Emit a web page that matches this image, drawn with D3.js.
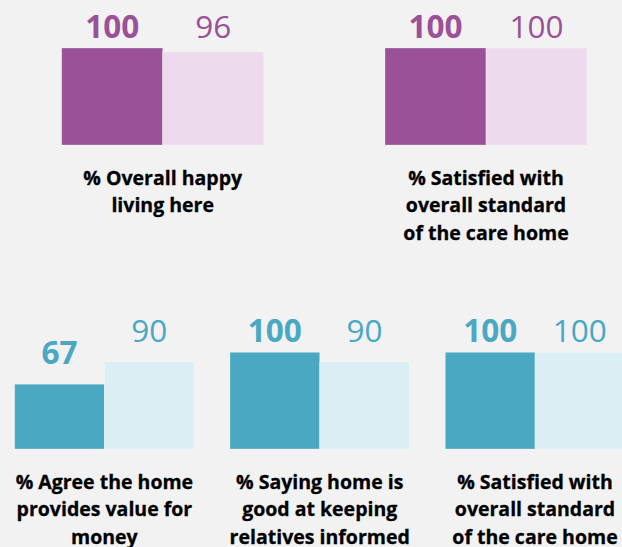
<!DOCTYPE html>
<html>
<head>
<meta charset="utf-8">
<script src="https://cdn.jsdelivr.net/npm/d3@7"></script>
<style>
	body { margin: 0; background: #f2f2f2; }
	svg { display: block; }
</style>
</head>
<body>
<script>
// values: this home vs comparison
const captions = [
	["% Overall happy", "living here"],
	["% Satisfied with", "overall standard", "of the care home"],
	["% Agree the home", "provides value for", "money"],
	["% Saying home is", "good at keeping", "relatives informed"],
	["% Satisfied with", "overall standard", "of the care home"],
];
const homeValues = [100, 100, 67, 100, 100];
const comparisonValues = [96, 100, 90, 90, 100];
const seriesNames = ["home", "comparison"];
const groups = ["residents", "residents", "relatives", "relatives", "relatives"];

var width = 622,
	height = 547;

var colors = {
	residents: { home: "#9b5197", comparison: "#eddaed", label: "#9b5197" },
	relatives: { home: "#4aa8c3", comparison: "#dbeef4", label: "#4aa8c3" },
};

// panel frames: [left, barWidth, baseline, top of 100]
var frames = [
	[61.7, 101, 145, 48],
	[385, 101, 145, 48],
	[14.7, 89.7, 449, 352.3],
	[230, 89.7, 449, 352.3],
	[445.3, 89.7, 449, 352.3],
];

var svg = d3.select("body").append("svg").attr("width", width).attr("height", height);

svg.append("rect").attr("width", width).attr("height", height).attr("fill", "#f2f2f2");

var font = "'Open Sans', 'Noto Sans', sans-serif";

captions.forEach(function (lines, i) {
	var f = frames[i];
	var c = colors[groups[i]];
	var x = d3
		.scaleBand()
		.domain(seriesNames)
		.range([f[0], f[0] + f[1] * 2]);
	var y = d3.scaleLinear().domain([0, 100]).range([f[2], f[3]]);

	var vals = [
		{ key: "home", value: homeValues[i] },
		{ key: "comparison", value: comparisonValues[i] },
	];

	var g = svg.append("g").attr("class", "panel");

	g.selectAll("rect.bar")
		.data(vals)
		.enter()
		.append("rect")
		.attr("class", "bar")
		.attr("x", (d) => x(d.key))
		.attr("width", x.bandwidth())
		.attr("y", (d) => y(d.value))
		.attr("height", (d) => y(0) - y(d.value))
		.attr("fill", (d) => c[d.key])
		.attr("stroke", "rgba(255,255,255,0.35)")
		.attr("stroke-width", 0.8);

	// labels sit above the bar, but never above the top line
	g.selectAll("text.value")
		.data(vals)
		.enter()
		.append("text")
		.attr("class", "value")
		.attr("x", (d) => x(d.key) + x.bandwidth() / 2)
		.attr("y", (d) => Math.max(y(d.value) - 20, y(100) - 10))
		.attr("text-anchor", "middle")
		.attr("font-family", font)
		.attr("font-size", 31.5)
		.attr("font-weight", (d) => (d.key == "home" ? 700 : 400))
		.attr("fill", c.label)
		.text((d) => d.value);

	var cx = f[0] + f[1];
	g.append("text")
		.attr("class", "caption")
		.attr("text-anchor", "middle")
		.attr("font-family", font)
		.attr("font-size", 19.5)
		.attr("font-weight", 700)
		.attr("fill", "#000")
		.attr("stroke", "#000")
		.attr("stroke-width", 0.3)
		.selectAll("tspan")
		.data(lines)
		.enter()
		.append("tspan")
		.attr("x", cx)
		.attr("y", (d, j) => y(0) + 40 + j * 27.3)
		.text((d) => d);
});
</script>
</body>
</html>
